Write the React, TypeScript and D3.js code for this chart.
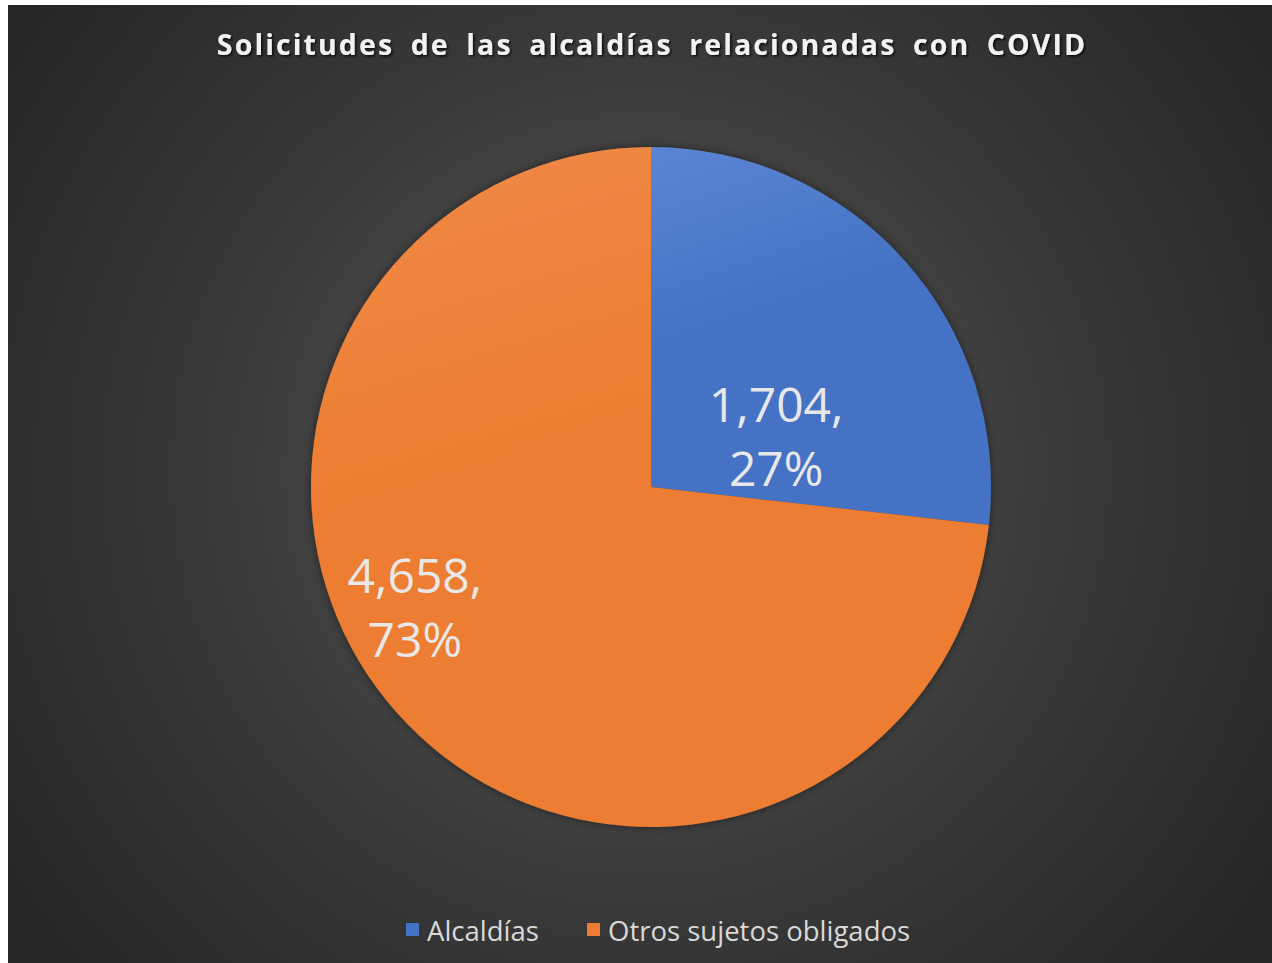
import React from "react";
import * as d3 from "d3";

const categories = ["Alcaldías", "Otros sujetos obligados"];
const values = [1704, 4658];
const colors = ["#4472C4", "#ED7D31"];
const colorsLight = ["#5b85d3", "#f08a48"];
const titleText = "Solicitudes de las alcaldías relacionadas con COVID";

const W = 1272;
const H = 963;
const cx = 651;
const cy = 487;
const R = 340;
// label placement: angle (deg clockwise from top) and radius
const labelPlace = [
  { a: 68, r: 135 },
  { a: 243, r: 265 },
];

export default function App() {
  const total = d3.sum(values);
  const pie = d3.pie<number>().sort(null).value((d) => d).startAngle(0).endAngle(2 * Math.PI);
  const arcs = pie(values);
  const arc = d3.arc<d3.PieArcDatum<number>>().innerRadius(0).outerRadius(R);
  const fmt = d3.format(",");
  const pct = (v: number) => `${Math.round((v / total) * 100)}%`;

  return (
    <svg
      width={W}
      height={H}
      style={{ position: "absolute", left: 0, top: 0, display: "block" }}
      fontFamily="'Open Sans', sans-serif"
    >
      <defs>
        <radialGradient id="bg" cx="640" cy="470" r="760" gradientUnits="userSpaceOnUse">
          <stop offset="0" stopColor="#5c5c5c" />
          <stop offset="0.55" stopColor="#3a3a3a" />
          <stop offset="1" stopColor="#262626" />
        </radialGradient>
        {colors.map((c, i) => (
          <linearGradient key={i} id={`g${i}`} x1="0" y1="0" x2="0.3" y2="1">
            <stop offset="0" stopColor={colorsLight[i]} />
            <stop offset="0.5" stopColor={c} />
            <stop offset="1" stopColor={c} />
          </linearGradient>
        ))}
        <filter id="shadow" x="-20%" y="-20%" width="140%" height="140%">
          <feDropShadow dx="0" dy="0" stdDeviation="4" floodColor="#000" floodOpacity="0.5" />
        </filter>
        <filter id="tshadow" x="-5%" y="-30%" width="110%" height="160%">
          <feDropShadow dx="1.5" dy="1.5" stdDeviation="1" floodColor="#000" floodOpacity="0.8" />
        </filter>
      </defs>
      <rect x={0} y={0} width={W} height={H} fill="#ffffff" />
      <rect x={8} y={5} width={W - 8} height={H - 5} fill="url(#bg)" />

      <text
        x={652}
        y={55}
        textAnchor="middle"
        fontSize={28.5}
        fontWeight="bold"
        fill="#f2f2f2"
        letterSpacing={2.1}
        wordSpacing={7}
        filter="url(#tshadow)"
      >
        {titleText}
      </text>

      <g transform={`translate(${cx},${cy})`}>
        <g filter="url(#shadow)">
          {arcs.map((a, i) => (
            <path key={i} d={arc(a) || ""} fill={`url(#g${i})`} />
          ))}
        </g>
        {arcs.map((a, i) => {
          const ang = (labelPlace[i].a * Math.PI) / 180;
          const x = Math.sin(ang) * labelPlace[i].r;
          const y = -Math.cos(ang) * labelPlace[i].r;
          return (
            <text key={i} x={x} y={y} textAnchor="middle" fontSize={48} fill="#e8e8e8">
              <tspan x={x} dy={-14}>{fmt(values[i])},</tspan>
              <tspan x={x} dy={64}>{pct(values[i])}</tspan>
            </text>
          );
        })}
      </g>

      <g>
        {(() => {
          const items: JSX.Element[] = [];
          const starts = [406, 587];
          categories.forEach((c, i) => {
            items.push(
              <rect key={`r${i}`} x={starts[i]} y={923} width={13} height={13} fill={colors[i]} />
            );
            items.push(
              <text key={`t${i}`} x={starts[i] + 21} y={941} fontSize={27.5} fill="#d9d9d9">
                {c}
              </text>
            );
          });
          return items;
        })()}
      </g>
    </svg>
  );
}
